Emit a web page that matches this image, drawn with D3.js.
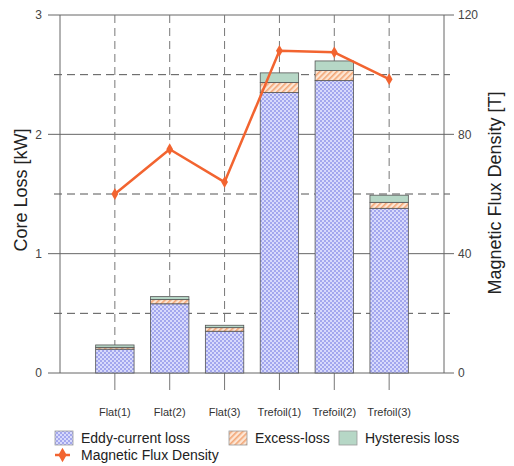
<!DOCTYPE html>
<html>
<head>
<meta charset="utf-8">
<script src="https://cdn.jsdelivr.net/npm/d3@7"></script>
<style>
  html, body { margin: 0; padding: 0; background: #fff; }
  svg { display: block; font-family: "Liberation Sans", Arial, sans-serif; }
</style>
</head>
<body>
<svg id="chart" width="514" height="466"></svg>
<script>
// Core loss components per cable arrangement (kW) and magnetic flux density
const categories = ["Flat(1)", "Flat(2)", "Flat(3)", "Trefoil(1)", "Trefoil(2)", "Trefoil(3)"];
const eddyLoss       = [0.20, 0.58, 0.35, 2.35, 2.45, 1.38];
const excessLoss     = [0.015, 0.035, 0.03, 0.085, 0.085, 0.05];
const hysteresisLoss = [0.02, 0.025, 0.02, 0.08, 0.08, 0.06];
const fluxDensity    = [60, 75, 64, 108, 107.5, 98.5];
const lossTicks = [0, 1, 2, 3];
const fluxTicks = [0, 40, 80, 120];
const halfTicks = [0.5, 1.5, 2.5];
const seriesNames = ["Eddy-current loss", "Excess-loss", "Hysteresis loss"];

const svg = d3.select("#chart");
const plotLeft = 60, plotRight = 444, plotTop = 15, plotBottom = 373;

const x = d3.scalePoint().domain(categories).range([plotLeft, plotRight]).padding(1);
const yL = d3.scaleLinear().domain([0, 3]).range([plotBottom, plotTop]);
const yR = d3.scaleLinear().domain([0, 120]).range([plotBottom, plotTop]);
const barW = x.step() * 0.7;

// Fill patterns
const defs = svg.append("defs");
const eddyPat = defs.append("pattern").attr("id", "eddy")
  .attr("patternUnits", "userSpaceOnUse").attr("width", 4).attr("height", 4);
eddyPat.append("rect").attr("width", 4).attr("height", 4).attr("fill", "#d8dafc");
eddyPat.append("rect").attr("width", 2).attr("height", 2).attr("fill", "#a3a7ee");
eddyPat.append("rect").attr("x", 2).attr("y", 2).attr("width", 2).attr("height", 2).attr("fill", "#a3a7ee");

const excPat = defs.append("pattern").attr("id", "excess")
  .attr("patternUnits", "userSpaceOnUse").attr("width", 4).attr("height", 4)
  .attr("patternTransform", "rotate(45)");
excPat.append("rect").attr("width", 4).attr("height", 4).attr("fill", "#fde6d4");
excPat.append("rect").attr("width", 1.6).attr("height", 4).attr("fill", "#f3a676");

const fills = ["url(#eddy)", "url(#excess)", "#b6d7c6"];

// Grid: solid lines at integer values, dashed at halves
const grid = svg.append("g");
grid.selectAll("line.solid").data(lossTicks).join("line").attr("class", "solid")
  .attr("x1", plotLeft - 12).attr("x2", plotRight + 10)
  .attr("y1", d => yL(d)).attr("y2", d => yL(d))
  .attr("stroke", "#666").attr("stroke-width", 1);
grid.selectAll("line.half").data(halfTicks).join("line").attr("class", "half")
  .attr("x1", plotLeft - 6).attr("x2", plotRight + 6)
  .attr("y1", d => yL(d)).attr("y2", d => yL(d))
  .attr("stroke", "#555").attr("stroke-width", 1).attr("stroke-dasharray", "8,5");
grid.selectAll("line.vert").data(categories).join("line").attr("class", "vert")
  .attr("x1", d => x(d)).attr("x2", d => x(d))
  .attr("y1", plotTop).attr("y2", plotBottom)
  .attr("stroke", "#777").attr("stroke-width", 1).attr("stroke-dasharray", "8,5");
grid.selectAll("line.xtick").data(categories).join("line").attr("class", "xtick")
  .attr("x1", d => x(d)).attr("x2", d => x(d))
  .attr("y1", plotBottom).attr("y2", plotBottom + 17)
  .attr("stroke", "#777").attr("stroke-width", 1);

// Axis lines
svg.append("line").attr("x1", plotLeft).attr("x2", plotLeft).attr("y1", plotTop).attr("y2", plotBottom)
  .attr("stroke", "#666");
svg.append("line").attr("x1", plotRight).attr("x2", plotRight).attr("y1", plotTop).attr("y2", plotBottom)
  .attr("stroke", "#666");

// Stacked bars
const stackData = categories.map((c, i) => ({
  cat: c, eddy: eddyLoss[i], excess: excessLoss[i], hyst: hysteresisLoss[i]
}));
const stacked = d3.stack().keys(["eddy", "excess", "hyst"])(stackData);
svg.append("g").selectAll("g").data(stacked).join("g")
  .attr("fill", (d, i) => fills[i])
  .selectAll("rect").data(d => d).join("rect")
  .attr("x", d => x(d.data.cat) - barW / 2)
  .attr("width", barW)
  .attr("y", d => yL(d[1]))
  .attr("height", d => yL(d[0]) - yL(d[1]))
  .attr("stroke", "#555").attr("stroke-width", 0.8);

// Flux density line
const line = d3.line().x((d, i) => x(categories[i])).y(d => yR(d));
svg.append("path").datum(fluxDensity)
  .attr("d", line).attr("fill", "none")
  .attr("stroke", "#f26430").attr("stroke-width", 2.5).attr("stroke-linejoin", "round");
const diamond = d3.symbol().type(d3.symbolDiamond).size(40);
svg.append("g").selectAll("path").data(fluxDensity).join("path")
  .attr("d", diamond)
  .attr("transform", (d, i) => `translate(${x(categories[i])},${yR(d)})`)
  .attr("fill", "#f26430");

// Tick labels
svg.append("g").selectAll("text").data(lossTicks).join("text")
  .attr("x", plotLeft - 18).attr("y", d => yL(d)).attr("dy", "0.35em")
  .attr("text-anchor", "end").attr("font-size", 12).attr("fill", "#444")
  .text(d => d);
svg.append("g").selectAll("text").data(fluxTicks).join("text")
  .attr("x", plotRight + 14).attr("y", d => yR(d)).attr("dy", "0.35em")
  .attr("text-anchor", "start").attr("font-size", 12).attr("fill", "#444")
  .text(d => d);
svg.append("g").selectAll("text").data(categories).join("text")
  .attr("x", d => x(d)).attr("y", 416)
  .attr("text-anchor", "middle").attr("font-size", 11).attr("fill", "#333")
  .text(d => d);

// Axis titles
svg.append("text").attr("transform", "translate(27,190) rotate(-90)")
  .attr("text-anchor", "middle").attr("font-size", 18).attr("fill", "#222")
  .text("Core Loss [kW]");
svg.append("text").attr("transform", "translate(501,193) rotate(-90)")
  .attr("text-anchor", "middle").attr("font-size", 18).attr("fill", "#222")
  .text("Magnetic Flux Density [T]");

// Legend
const legend = svg.append("g").attr("font-size", 14).attr("fill", "#222");
const legendX = [55, 229, 339];
seriesNames.forEach((name, i) => {
  legend.append("rect").attr("x", legendX[i]).attr("y", 431)
    .attr("width", 18).attr("height", 14)
    .attr("fill", fills[i]).attr("stroke", "#999").attr("stroke-width", 0.8);
  legend.append("text").attr("x", legendX[i] + 26).attr("y", 438).attr("dy", "0.35em")
    .text(name);
});
legend.append("line").attr("x1", 55).attr("x2", 70).attr("y1", 455).attr("y2", 455)
  .attr("stroke", "#f26430").attr("stroke-width", 2.5);
legend.append("path").attr("d", d3.symbol().type(d3.symbolDiamond).size(60))
  .attr("transform", "translate(62.5,455)").attr("fill", "#f26430");
legend.append("text").attr("x", 81).attr("y", 455).attr("dy", "0.35em")
  .text("Magnetic Flux Density");
</script>
</body>
</html>
